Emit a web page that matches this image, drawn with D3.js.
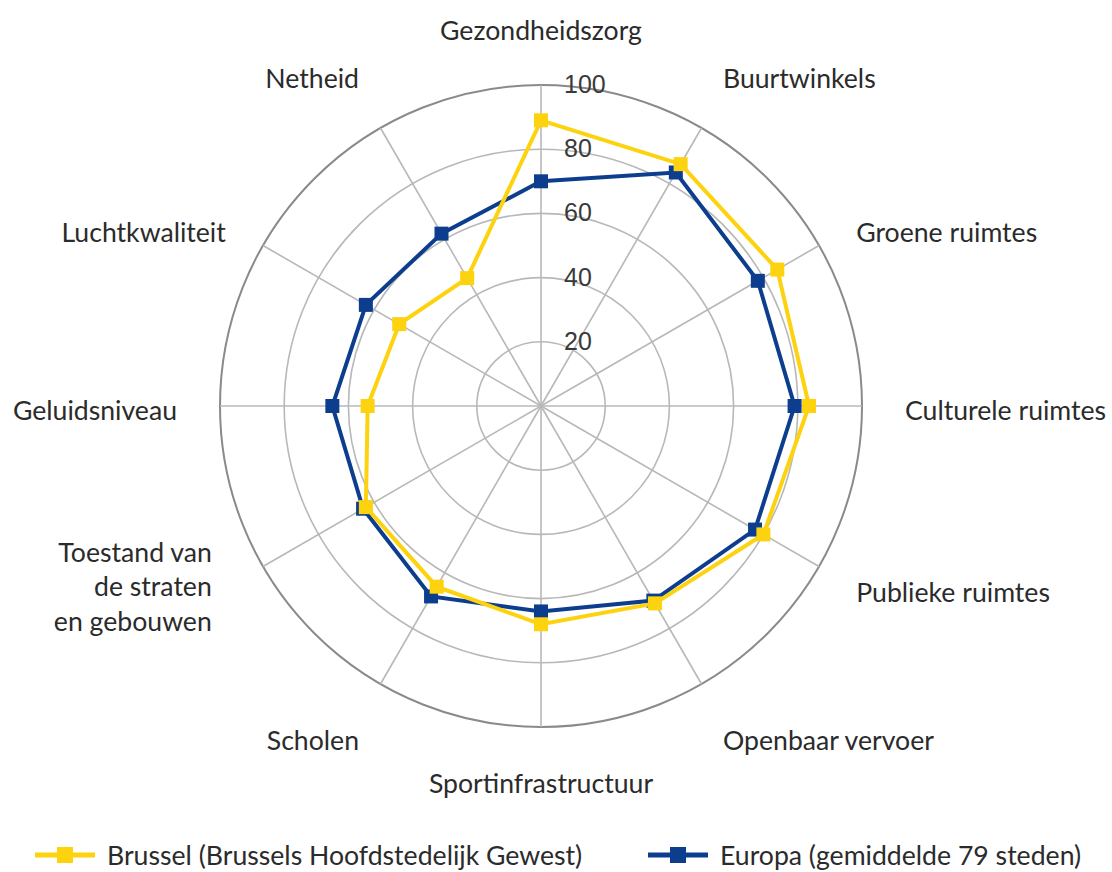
<!DOCTYPE html>
<html>
<head>
<meta charset="utf-8">
<script src="https://cdn.jsdelivr.net/npm/d3@7"></script>
<style>
  html, body { margin: 0; padding: 0; background: #fff; }
  svg { display: block; }
</style>
</head>
<body>
<svg id="chart" width="1112" height="872"></svg>
<script>
// ---- data ----
const categories = [
  "Gezondheidszorg", "Buurtwinkels", "Groene ruimtes", "Culturele ruimtes",
  "Publieke ruimtes", "Openbaar vervoer", "Sportinfrastructuur", "Scholen",
  "Toestand van\nde straten\nen gebouwen", "Geluidsniveau", "Luchtkwaliteit", "Netheid"
];
const brussel = [89, 87, 85, 83.5, 80, 71, 68, 65, 63, 54, 51, 46];
const europa  = [70, 84, 78, 79, 77, 70, 64, 68.5, 64, 65, 63, 62];
const tickValues = [20, 40, 60, 80, 100];
const seriesNames = ["Brussel (Brussels Hoofdstedelijk Gewest)", "Europa (gemiddelde 79 steden)"];

// ---- layout ----
const W = 1112, H = 872;
const cx = 541, cy = 406, R = 321;
const colors = ["#FDD20E", "#0D3E8E"];
const labelFont = "Lato, 'Open Sans', sans-serif";
const textColor = "#2b2b2b";

const svg = d3.select("#chart");
svg.append("rect").attr("width", W).attr("height", H).attr("fill", "#fff");

// fit label font size to the reference width of the first label
const probe = svg.append("text").attr("font-family", labelFont).attr("font-size", 28).text("Gezondheidszorg");
const probeW = probe.node().getComputedTextLength();
probe.remove();
const labelSize = 28 * 202 / probeW;

const n = categories.length;
const r = d3.scaleLinear().domain([0, 100]).range([0, R]);
const ang = d3.scaleLinear().domain([0, n]).range([0, 2 * Math.PI]);

const g = svg.append("g").attr("transform", `translate(${cx},${cy})`);

// grid circles
g.selectAll("circle.grid").data(tickValues).join("circle")
  .attr("class", "grid")
  .attr("r", d => r(d))
  .attr("fill", "none")
  .attr("stroke", d => d === 100 ? "#8a8a8a" : "#b8b8b8")
  .attr("stroke-width", d => d === 100 ? 2 : 1.6);

// spokes
g.selectAll("line.spoke").data(categories).join("line")
  .attr("class", "spoke")
  .attr("x1", 0).attr("y1", 0)
  .attr("x2", (d, i) => r(100) * Math.sin(ang(i)))
  .attr("y2", (d, i) => -r(100) * Math.cos(ang(i)))
  .attr("stroke", "#b8b8b8")
  .attr("stroke-width", 1.6);

// tick labels
g.selectAll("text.tick").data(tickValues).join("text")
  .attr("class", "tick")
  .attr("x", 23)
  .attr("y", d => -r(d) - 1)
  .attr("dominant-baseline", "central")
  .attr("font-family", "'Liberation Sans', Arial, sans-serif")
  .attr("font-size", 25)
  .attr("fill", "#3a3a3a")
  .text(d => d);

// category labels
const labelR = 364;
function labelDy(theta, nLines) {
  const c = Math.cos(theta);
  if (c > 0.95) return -12;
  if (c < -0.95) return 13;
  if (c > 0.8) return -13;
  if (c < -0.8) return 19;
  if (nLines > 1) return -2;
  if (c > 0.3) return 8;
  return 4;
}
const lineH = 34.5;
categories.forEach((name, i) => {
  const th = ang(i);
  const s = Math.sin(th);
  const lines = name.split("\n");
  const pad = lines.length > 1 ? 14 : 0;
  let x = labelR * s;
  if (s > 0.01) x += pad; else if (s < -0.01) x -= pad;
  const yc = -labelR * Math.cos(th) + labelDy(th, lines.length);
  const anchor = s > 0.01 ? "start" : (s < -0.01 ? "end" : "middle");
  const t = g.append("text")
    .attr("font-family", labelFont)
    .attr("font-size", labelSize)
    .attr("fill", textColor)
    .attr("text-anchor", anchor)
    .attr("dominant-baseline", "central");
  lines.forEach((ln, k) => {
    t.append("tspan")
      .attr("x", x)
      .attr("y", yc + (k - (lines.length - 1) / 2) * lineH)
      .text(ln);
  });
});

// series
const radial = d3.lineRadial()
  .angle((d, i) => ang(i))
  .radius(d => r(d))
  .curve(d3.curveLinearClosed);

const seriesData = [europa, brussel];
const seriesColors = [colors[1], colors[0]];
seriesData.forEach((vals, si) => {
  const col = seriesColors[si];
  g.append("path")
    .attr("d", radial(vals))
    .attr("fill", "none")
    .attr("stroke", col)
    .attr("stroke-width", 4)
    .attr("stroke-linejoin", "miter");
  const ms = 14;
  g.selectAll(null).data(vals).join("rect")
    .attr("x", (d, i) => r(d) * Math.sin(ang(i)) - ms / 2)
    .attr("y", (d, i) => -r(d) * Math.cos(ang(i)) - ms / 2)
    .attr("width", ms).attr("height", ms)
    .attr("fill", col);
});

// legend
const legendY = 855;
const legendItems = [
  { name: seriesNames[0], color: colors[0], x: 35 },
  { name: seriesNames[1], color: colors[1], x: 648 }
];
legendItems.forEach(it => {
  const lg = svg.append("g").attr("transform", `translate(${it.x},${legendY})`);
  lg.append("line").attr("x1", 0).attr("x2", 60).attr("y1", 0).attr("y2", 0)
    .attr("stroke", it.color).attr("stroke-width", 5);
  lg.append("rect").attr("x", 30 - 8).attr("y", -8).attr("width", 16).attr("height", 16)
    .attr("fill", it.color);
  lg.append("text").attr("x", 72).attr("y", 0)
    .attr("dominant-baseline", "central")
    .attr("font-family", labelFont).attr("font-size", labelSize)
    .attr("fill", textColor)
    .text(it.name);
});
</script>
</body>
</html>
